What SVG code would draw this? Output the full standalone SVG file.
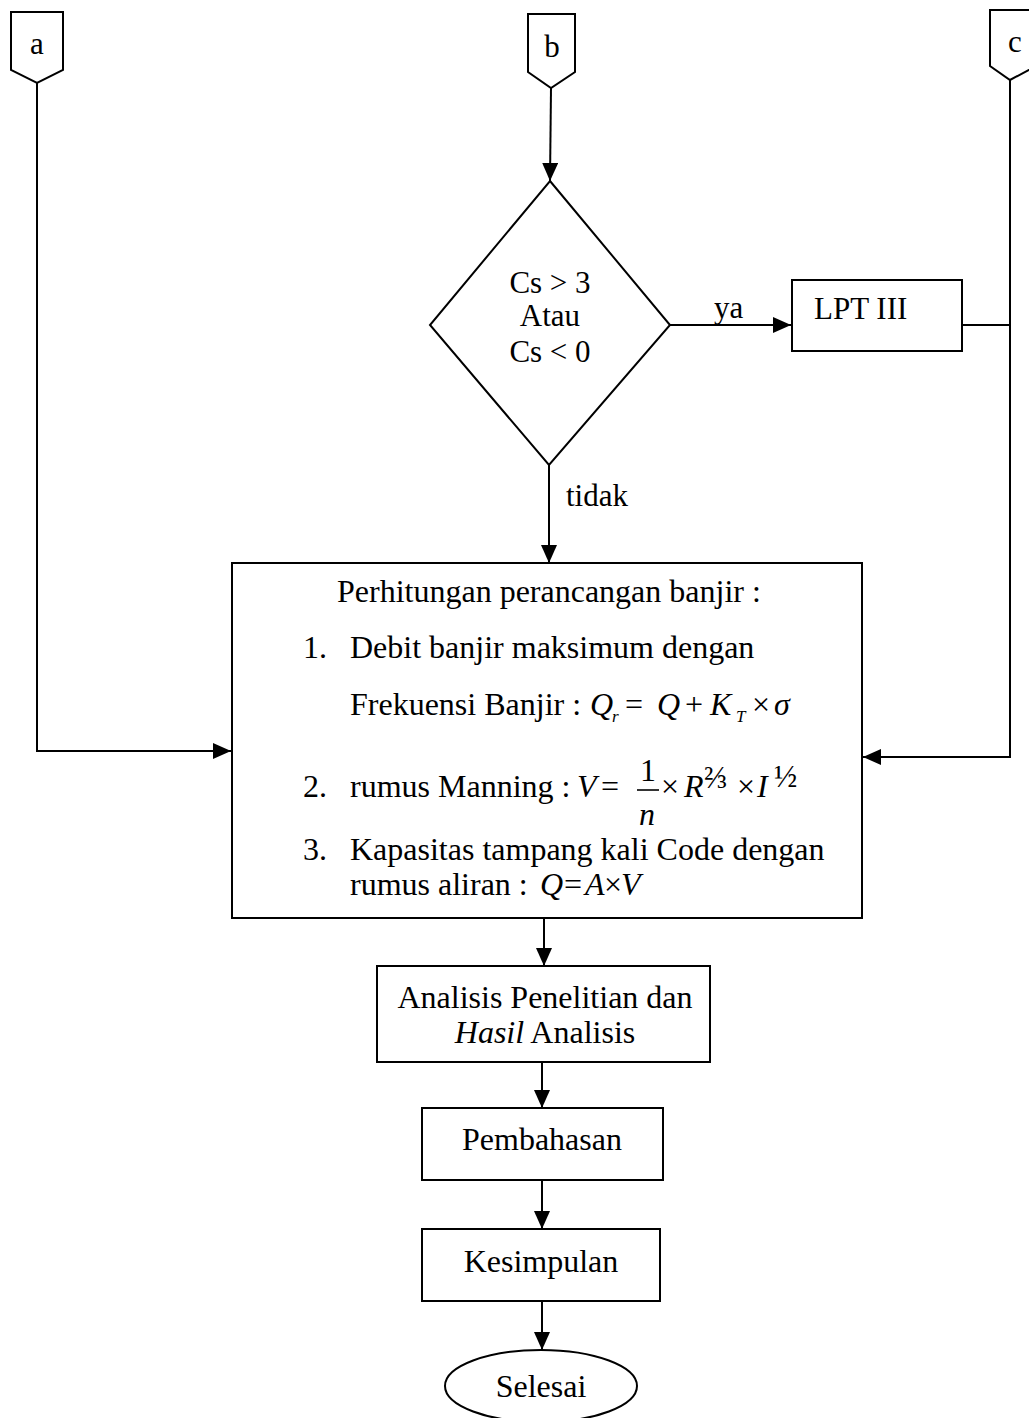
<svg xmlns="http://www.w3.org/2000/svg" width="1029" height="1418" viewBox="0 0 1029 1418">
<defs>
<style>
.n{fill:#fff;stroke:#000;stroke-width:2}
.t{font-family:"Liberation Serif","Times New Roman",serif;font-size:32px;fill:#000}
.d{font-size:31px}
.m{text-anchor:middle}
.i{font-style:italic}
.s{font-size:17px}
.f{font-size:31px}
.c{fill:none;stroke:#000;stroke-width:2}
</style>
<marker id="ah" markerUnits="userSpaceOnUse" markerWidth="18" markerHeight="16" refX="18" refY="8" orient="auto">
<path d="M0,0 L18,8 L0,16 z" fill="#000"/>
</marker>
</defs>
<rect width="1029" height="1418" fill="#fff"/>
<g id="connectors">
<polyline class="c" points="37,83 37,751 231,751" marker-end="url(#ah)"/>
<line class="c" x1="551" y1="88" x2="550" y2="181" marker-end="url(#ah)"/>
<polyline class="c" points="1010,80 1010,757 863,757" marker-end="url(#ah)"/>
<line class="c" x1="670" y1="325" x2="791" y2="325" marker-end="url(#ah)"/>
<line class="c" x1="962" y1="325" x2="1010" y2="325"/>
<line class="c" x1="549" y1="465" x2="549" y2="563" marker-end="url(#ah)"/>
<line class="c" x1="544" y1="918" x2="544" y2="966" marker-end="url(#ah)"/>
<line class="c" x1="542" y1="1062" x2="542" y2="1108" marker-end="url(#ah)"/>
<line class="c" x1="542" y1="1180" x2="542" y2="1229" marker-end="url(#ah)"/>
<line class="c" x1="542" y1="1301" x2="542" y2="1350" marker-end="url(#ah)"/>
<text class="t d" x="714" y="318">ya</text>
<text class="t d" x="566" y="506">tidak</text>
</g>
<g id="node-a">
<polygon class="n" points="11,12 63,12 63,70 37,83 11,70"/>
<text class="t d m" x="37" y="54">a</text>
</g>
<g id="node-b">
<polygon class="n" points="528,14 575,14 575,72 551,88 528,72"/>
<text class="t d m" x="552" y="57">b</text>
</g>
<g id="node-c">
<polygon class="n" points="990,10 1036,10 1036,66 1010,80 990,66"/>
<text class="t d m" x="1015" y="52">c</text>
</g>
<g id="node-decision">
<polygon class="n" points="550,181 670,325 549,465 430,325"/>
<text class="t d m" x="550" y="293">Cs &gt; 3</text>
<text class="t d m" x="550" y="326">Atau</text>
<text class="t d m" x="550" y="362">Cs &lt; 0</text>
</g>
<g id="node-lpt">
<rect class="n" x="792" y="280" width="170" height="71"/>
<text class="t d" x="814" y="319">LPT III</text>
</g>
<g id="node-perhitungan">
<rect class="n" x="232" y="563" width="630" height="355"/>
<text class="t" x="337" y="602">Perhitungan perancangan banjir :</text>
<text class="t" x="303" y="658">1.</text>
<text class="t" x="350" y="658">Debit banjir maksimum dengan</text>
<text class="t" x="350" y="715">Frekuensi Banjir :</text>
<text class="t i" x="590" y="715">Q</text>
<text class="t i s" x="612" y="722">r</text>
<text class="t" x="625" y="715">=</text>
<text class="t i" x="657" y="715">Q</text>
<text class="t" x="685" y="715">+</text>
<text class="t i" x="710" y="715">K</text>
<text class="t i s" x="736" y="722">T</text>
<text class="t" x="752" y="715">×</text>
<text class="t i" x="774" y="715">σ</text>
<text class="t" x="303" y="797">2.</text>
<text class="t" x="350" y="797">rumus Manning :</text>
<text class="t i" x="577" y="797">V</text>
<text class="t" x="601" y="797">=</text>
<text class="t m" x="648" y="781">1</text>
<line x1="637" y1="790" x2="659" y2="790" stroke="#000" stroke-width="1.6"/>
<text class="t i m" x="647" y="825">n</text>
<text class="t" x="661" y="797">×</text>
<text class="t i" x="684" y="797">R</text>
<text class="t f" x="704" y="788">⅔</text>
<text class="t" x="737" y="797">×</text>
<text class="t i" x="757" y="797">I</text>
<text class="t f" x="774" y="787">½</text>
<text class="t" x="303" y="860">3.</text>
<text class="t" x="350" y="860">Kapasitas tampang kali Code dengan</text>
<text class="t" x="350" y="895">rumus aliran :</text>
<text class="t i" x="540" y="895">Q</text>
<text class="t" x="564" y="895">=</text>
<text class="t i" x="585" y="895">A</text>
<text class="t" x="604" y="895">×</text>
<text class="t i" x="621" y="895">V</text>
</g>
<g id="node-analisis">
<rect class="n" x="377" y="966" width="333" height="96"/>
<text class="t m" x="545" y="1008">Analisis Penelitian dan</text>
<text class="t m" x="545" y="1043"><tspan class="i">Hasil</tspan> Analisis</text>
</g>
<g id="node-pembahasan">
<rect class="n" x="422" y="1108" width="241" height="72"/>
<text class="t m" x="542" y="1150">Pembahasan</text>
</g>
<g id="node-kesimpulan">
<rect class="n" x="422" y="1229" width="238" height="72"/>
<text class="t m" x="541" y="1272">Kesimpulan</text>
</g>
<g id="node-selesai">
<ellipse class="n" cx="541" cy="1386" rx="96" ry="36"/>
<text class="t m" x="541" y="1397">Selesai</text>
</g>
</svg>
